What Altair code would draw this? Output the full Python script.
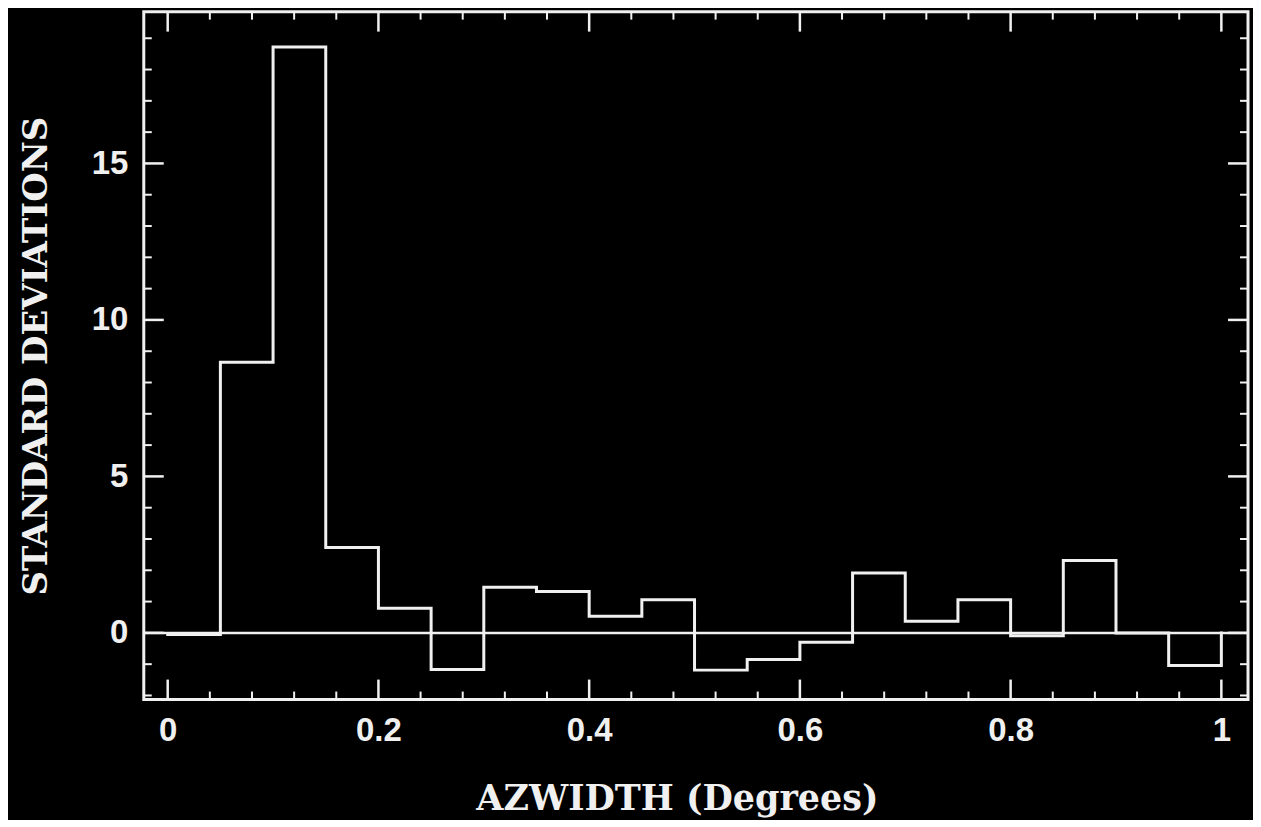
import altair as alt
import pandas as pd

# ---- data ----
bin_left = [0.00, 0.05, 0.10, 0.15, 0.20, 0.25, 0.30, 0.35, 0.40, 0.45,
            0.50, 0.55, 0.60, 0.65, 0.70, 0.75, 0.80, 0.85, 0.90, 0.95]
bin_width = 0.05
sigma = [-0.05, 8.65, 18.72, 2.73, 0.79, -1.17, 1.46, 1.32, 0.53, 1.06,
         -1.19, -0.85, -0.30, 1.91, 0.37, 1.06, -0.09, 2.31, 0.00, -1.04]

x_major = [0, 0.2, 0.4, 0.6, 0.8, 1.0]
x_minor = [0.04, 0.08, 0.12, 0.16, 0.24, 0.28, 0.32, 0.36, 0.44, 0.48,
           0.52, 0.56, 0.64, 0.68, 0.72, 0.76, 0.84, 0.88, 0.92, 0.96]
y_major = [0, 5, 10, 15]
y_minor = [-2, -1, 1, 2, 3, 4, 6, 7, 8, 9, 11, 12, 13, 14, 16, 17, 18, 19]

x_domain = [-0.0227, 1.0253]
y_domain = [-2.13, 19.85]

W, H = 1106, 689
FG = "#f0f0f0"

# step outline of the histogram
xs, ys = [], []
for l, v in zip(bin_left, sigma):
    xs += [l, l + bin_width]
    ys += [v, v]
xs.append(bin_left[-1] + bin_width)
ys.append(0)
hist = pd.DataFrame({"x": xs, "y": ys, "o": list(range(len(xs)))})

xscale = alt.Scale(domain=x_domain, nice=False, zero=False)
yscale = alt.Scale(domain=y_domain, nice=False, zero=False)

xaxis = alt.Axis(values=x_major, format="~g", ticks=False, domain=False, grid=False,
                 labelFont="Liberation Sans", labelFontWeight="bold", labelFontSize=33,
                 labelColor=FG, labelPadding=15,
                 title="AZWIDTH (Degrees)", titleFont="DejaVu Serif", titleFontWeight="bold",
                 titleFontSize=35, titleColor=FG, titlePadding=34,
                 titleX=534, titleAlign="center")
yaxis = alt.Axis(values=y_major, format="~g", ticks=False, domain=False, grid=False,
                 labelFont="Liberation Sans", labelFontWeight="bold", labelFontSize=33,
                 labelColor=FG, labelPadding=16,
                 title="STANDARD DEVIATIONS", titleFont="DejaVu Serif", titleFontWeight="bold",
                 titleFontSize=34, titleColor=FG, titlePadding=38)

X = lambda f: alt.X(f, scale=xscale, axis=xaxis)
Y = lambda f: alt.Y(f, scale=yscale, axis=yaxis)

line = alt.Chart(hist).mark_line(color=FG, strokeWidth=3, strokeCap="square").encode(
    x=X("x:Q"), y=Y("y:Q"), order="o:Q")

zero = alt.Chart(pd.DataFrame({"v": [0]})).mark_rule(color=FG, strokeWidth=2.5).encode(
    y=Y("v:Q"), x=alt.value(0), x2=alt.value(W))

xmaj = pd.DataFrame({"v": x_major})
xmin = pd.DataFrame({"v": x_minor})
ymaj = pd.DataFrame({"v": y_major})
ymin = pd.DataFrame({"v": y_minor})

def xticks(df, y0, y1, w):
    return alt.Chart(df).mark_rule(color=FG, strokeWidth=w).encode(
        x=X("v:Q"), y=alt.value(y0), y2=alt.value(y1))

def yticks(df, x0, x1, w):
    return alt.Chart(df).mark_rule(color=FG, strokeWidth=w).encode(
        y=Y("v:Q"), x=alt.value(x0), x2=alt.value(x1))

ticks = [
    xticks(xmaj, H, H - 20, 2.5), xticks(xmin, H, H - 8, 2),
    xticks(xmaj, 0, 20, 2.5), xticks(xmin, 0, 8, 2),
    yticks(ymaj, 0, 20, 2.5), yticks(ymin, 0, 8, 2),
    yticks(ymaj, W, W - 20, 2.5), yticks(ymin, W, W - 8, 2),
]

chart = alt.layer(zero, line, *ticks).properties(
    width=W, height=H,
    autosize=alt.AutoSizeParams(type="none"),
    padding={"left": 136, "top": 3, "right": 5, "bottom": 120},
    background="#000000",
).configure_view(stroke=FG, strokeWidth=3, fill="#000000")

chart.save("out.html", embed_options={"renderer": "svg", "actions": False})
